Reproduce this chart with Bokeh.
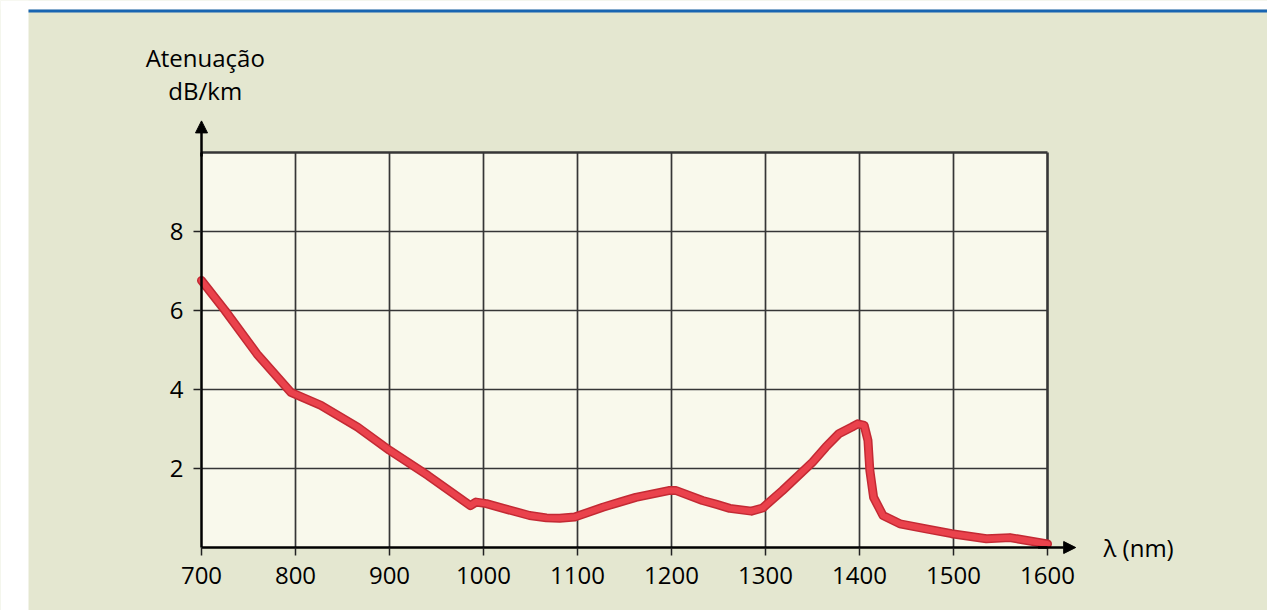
from bokeh.plotting import figure
from bokeh.models import (FixedTicker, Arrow, NormalHead, Label, BoxAnnotation,
                          ColumnDataSource)
from bokeh.embed import file_html
from bokeh.resources import INLINE

# ---- data ----
wavelength = [700, 725, 759, 795, 827, 866, 900, 941, 986, 992, 1003, 1021, 1049,
              1067, 1081, 1097, 1127, 1145, 1162, 1197, 1205, 1233, 1248, 1262,
              1285, 1297, 1318, 1350, 1364, 1378, 1392, 1398, 1405, 1409, 1411,
              1415, 1425, 1443, 1471, 1498, 1535, 1560, 1600]
attenuation = [6.76, 6.0, 4.9, 3.93, 3.6, 3.05, 2.46, 1.82, 1.06, 1.15, 1.11, 0.99,
               0.81, 0.75, 0.74, 0.77, 1.02, 1.15, 1.27, 1.44, 1.44, 1.19, 1.09,
               0.99, 0.92, 1.0, 1.44, 2.16, 2.54, 2.88, 3.05, 3.13, 3.09, 2.71,
               1.95, 1.27, 0.81, 0.6, 0.47, 0.35, 0.22, 0.25, 0.09]
x_ticks = [700, 800, 900, 1000, 1100, 1200, 1300, 1400, 1500, 1600]
y_ticks = [2, 4, 6, 8]
y_max = 10
y_title = ["Atenuação", "dB/km"]
x_title = "λ (nm)"

FONT = "Open Sans"
FS = "24px"
BG = "#e4e7d0"
PLOT_BG = "#f9f9ec"
GRID = "#363636"

# page geometry: the frame fills the whole page
W, H = 1267, 610
PX_X = 0.94      # pixels per nm
PX_Y = 39.5      # pixels per dB/km
x0 = 700 - 201 / PX_X
x1 = x0 + W / PX_X
y1 = 10 + 152 / PX_Y
y0 = y1 - H / PX_Y

src = ColumnDataSource(dict(x=wavelength, y=attenuation))

p = figure(width=W, height=H, x_range=(x0, x1), y_range=(y0, y1),
           output_backend="svg", toolbar_location=None,
           min_border_left=0, min_border_right=0,
           min_border_top=0, min_border_bottom=0)
p.background_fill_color = BG
p.border_fill_color = BG
p.outline_line_color = None
p.xgrid.visible = False
p.ygrid.visible = False

# white page strip on the left and top, blue rule at the top
x_page = 700 - (201 - 28) / PX_X
p.add_layout(BoxAnnotation(right=x_page, fill_color="white", fill_alpha=1,
                           line_color=None, level="image"))
p.add_layout(BoxAnnotation(bottom=10 + (152 - 9) / PX_Y, fill_color="white",
                           fill_alpha=1, line_color=None, level="image"))
p.add_layout(BoxAnnotation(left=x_page, bottom=10 + (152 - 12) / PX_Y,
                           top=10 + (152 - 9) / PX_Y, fill_color="#1865b2",
                           fill_alpha=1, line_color=None, level="image"))

# plot area
p.add_layout(BoxAnnotation(left=x_ticks[0], right=x_ticks[-1], bottom=0, top=y_max,
                           fill_color=PLOT_BG, fill_alpha=1, line_color=None,
                           level="image"))

# grid lines bounded to the plot area
p.segment(x0=x_ticks[1:-1], y0=[0] * (len(x_ticks) - 2), x1=x_ticks[1:-1],
          y1=[y_max] * (len(x_ticks) - 2), line_color=GRID, line_width=1.7)
p.segment(x0=[x_ticks[0]] * len(y_ticks), y0=y_ticks,
          x1=[x_ticks[-1]] * len(y_ticks), y1=y_ticks,
          line_color=GRID, line_width=1.7)
# thicker top / right border
p.segment(x0=[x_ticks[0], x_ticks[-1]], y0=[y_max, 0],
          x1=[x_ticks[-1], x_ticks[-1]], y1=[y_max, y_max],
          line_color=GRID, line_width=2.6)

p.xaxis.ticker = FixedTicker(ticks=x_ticks)
p.yaxis.ticker = FixedTicker(ticks=y_ticks)
p.xaxis.fixed_location = 0
p.yaxis.fixed_location = x_ticks[0]
p.xaxis.bounds = (x_ticks[0], x_ticks[-1])
p.yaxis.bounds = (0, y_max)
for ax in (p.xaxis, p.yaxis):
    ax.axis_line_color = "black"
    ax.axis_line_width = 2.5
    ax.major_tick_line_color = "#222222"
    ax.major_tick_line_width = 1.5
    ax.major_tick_out = 8
    ax.major_tick_in = 0
    ax.minor_tick_line_color = None
    ax.major_label_text_font = FONT
    ax.major_label_text_font_size = FS
    ax.major_label_text_color = "black"
p.xaxis.major_label_standoff = 11
p.yaxis.major_label_standoff = 10

# curve: dark edge then red core
p.line("x", "y", source=src, line_color="#c32a34", line_width=9,
       line_join="round", line_cap="round")
p.line("x", "y", source=src, line_color="#ea424c", line_width=6,
       line_join="round", line_cap="round")

# axis arrows
p.add_layout(Arrow(end=NormalHead(size=12, fill_color="black", line_color="black"),
                   x_start=700, y_start=9.9, x_end=700, y_end=10.8,
                   line_color="black", line_width=2.5))
p.add_layout(Arrow(end=NormalHead(size=12, fill_color="black", line_color="black"),
                   x_start=1590, y_start=0, x_end=1630, y_end=0,
                   line_color="black", line_width=2.5))

# titles
p.add_layout(Label(x=704, y=(547 - 57) / PX_Y, text=y_title[0], text_align="center",
                   text_baseline="middle", text_font=FONT, text_font_size=FS,
                   text_color="black"))
p.add_layout(Label(x=704, y=(547 - 90) / PX_Y, text=y_title[1], text_align="center",
                   text_baseline="middle", text_font=FONT, text_font_size=FS,
                   text_color="black"))
p.add_layout(Label(x=1600 + (1103 - 1047) / PX_X, y=0, text=x_title,
                   text_align="left", text_baseline="middle", text_font=FONT,
                   text_font_size=FS, text_color="black"))

open("out.html", "w").write(file_html(p, INLINE))
